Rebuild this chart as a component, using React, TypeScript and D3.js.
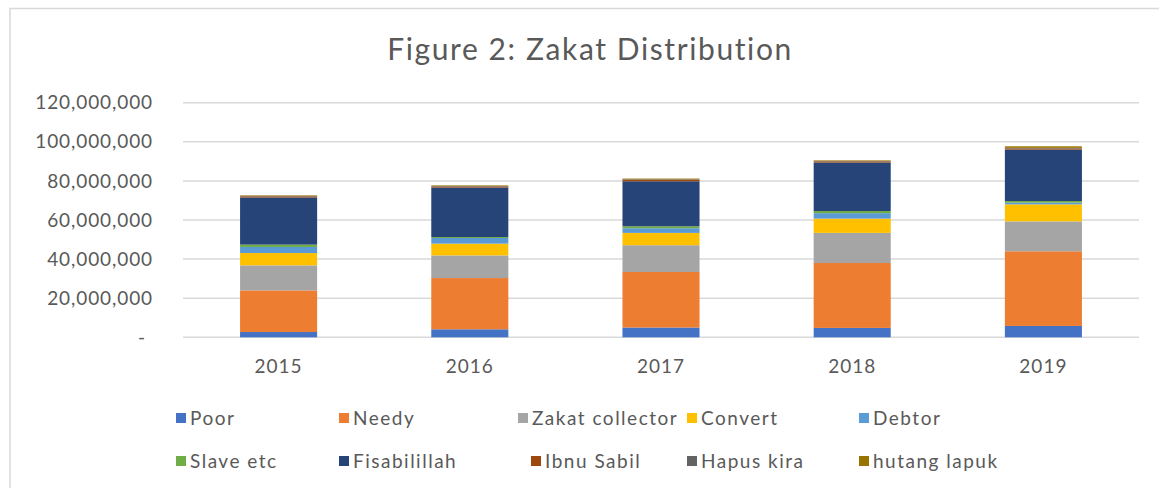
import React from "react";
import * as d3 from "d3";

const years = ["2015", "2016", "2017", "2018", "2019"];
const seriesNames = ["Poor", "Needy", "Zakat collector", "Convert", "Debtor", "Slave etc", "Fisabilillah", "Ibnu Sabil", "Hapus kira", "hutang lapuk"];
const poor = [2700000, 4100000, 5000000, 4800000, 5800000];
const needy = [21300000, 26200000, 28400000, 33200000, 38200000];
const zakatCollector = [12800000, 11600000, 13700000, 15400000, 15300000];
const convert = [6300000, 6000000, 6300000, 7300000, 8700000];
const debtor = [3100000, 2900000, 2400000, 2800000, 900000];
const slaveEtc = [1200000, 500000, 1000000, 1100000, 800000];
const fisabilillah = [24100000, 25300000, 23000000, 24800000, 26300000];
const ibnuSabil = [600000, 600000, 700000, 600000, 600000];
const hapusKira = [200000, 200000, 300000, 200000, 300000];
const hutangLapuk = [300000, 300000, 400000, 300000, 800000];
const yTicks = [0, 20000000, 40000000, 60000000, 80000000, 100000000, 120000000];

const colors = ["#4472C4", "#ED7D31", "#A5A5A5", "#FFC000", "#5B9BD5", "#70AD47", "#264478", "#9E480E", "#636363", "#997300"];

const seriesValues = [poor, needy, zakatCollector, convert, debtor, slaveEtc, fisabilillah, ibnuSabil, hapusKira, hutangLapuk];

const legendPos = [
  { x: 176, y: 418 }, { x: 339, y: 418 }, { x: 518, y: 418 }, { x: 687, y: 418 }, { x: 859, y: 418 },
  { x: 176, y: 461 }, { x: 339, y: 461 }, { x: 531, y: 461 }, { x: 687, y: 461 }, { x: 859, y: 461 },
];

const FONT = "Lato, 'Open Sans', sans-serif";

export default function App() {
  const width = 1159;
  const height = 488;
  const x = d3.scaleBand<string>().domain(years).range([183, 1139]).paddingInner(0.597).paddingOuter(0.2985);
  const y = d3.scaleLinear().domain([0, 120000000]).range([337.3, 102.7]);

  const table = years.map((yr, i) => {
    const row: any = { year: yr };
    seriesNames.forEach((s, k) => (row[s] = seriesValues[k][i]));
    return row;
  });
  const stacked = d3.stack<any>().keys(seriesNames)(table);
  const fmt = d3.format(",");

  return (
    <svg width={width} height={height} style={{ position: "absolute", left: 0, top: 0, background: "#fff" }} fontFamily={FONT}>
      <rect x={0} y={0} width={width} height={height} fill="#fff" />
      <rect x={10} y={8.5} width={1200} height={520} fill="none" stroke="#d9d9d9" strokeWidth={1.5} />
      <text x={590} y={60} textAnchor="middle" fontSize={30} letterSpacing={1.6} fill="#595959">
        Figure 2: Zakat Distribution
      </text>
      {yTicks.map((t) => (
        <g key={t}>
          <line x1={183} x2={1139} y1={y(t)} y2={y(t)} stroke="#d9d9d9" strokeWidth={1.5} />
          <text x={t === 0 ? 146 : 153} y={y(t)} dy="0.35em" textAnchor="end" fontSize={19} letterSpacing={0.9} fill="#595959">
            {t === 0 ? "-" : fmt(t)}
          </text>
        </g>
      ))}
      {stacked.map((layer, k) => (
        <g key={layer.key} fill={colors[k]}>
          {layer.map((d, i) => (
            <rect key={i} x={x(years[i])} width={x.bandwidth()} y={y(d[1])} height={Math.max(0, y(d[0]) - y(d[1]))} />
          ))}
        </g>
      ))}
      {years.map((yr) => (
        <text key={yr} x={(x(yr) as number) + x.bandwidth() / 2} y={373} textAnchor="middle" fontSize={19} letterSpacing={1} fill="#595959">
          {yr}
        </text>
      ))}
      {seriesNames.map((s, k) => (
        <g key={s}>
          <rect x={legendPos[k].x} y={legendPos[k].y - 5} width={10} height={10} fill={colors[k]} />
          <text x={legendPos[k].x + 14} y={legendPos[k].y} dy="0.35em" fontSize={19} letterSpacing={1.5} fill="#595959">
            {s}
          </text>
        </g>
      ))}
    </svg>
  );
}
